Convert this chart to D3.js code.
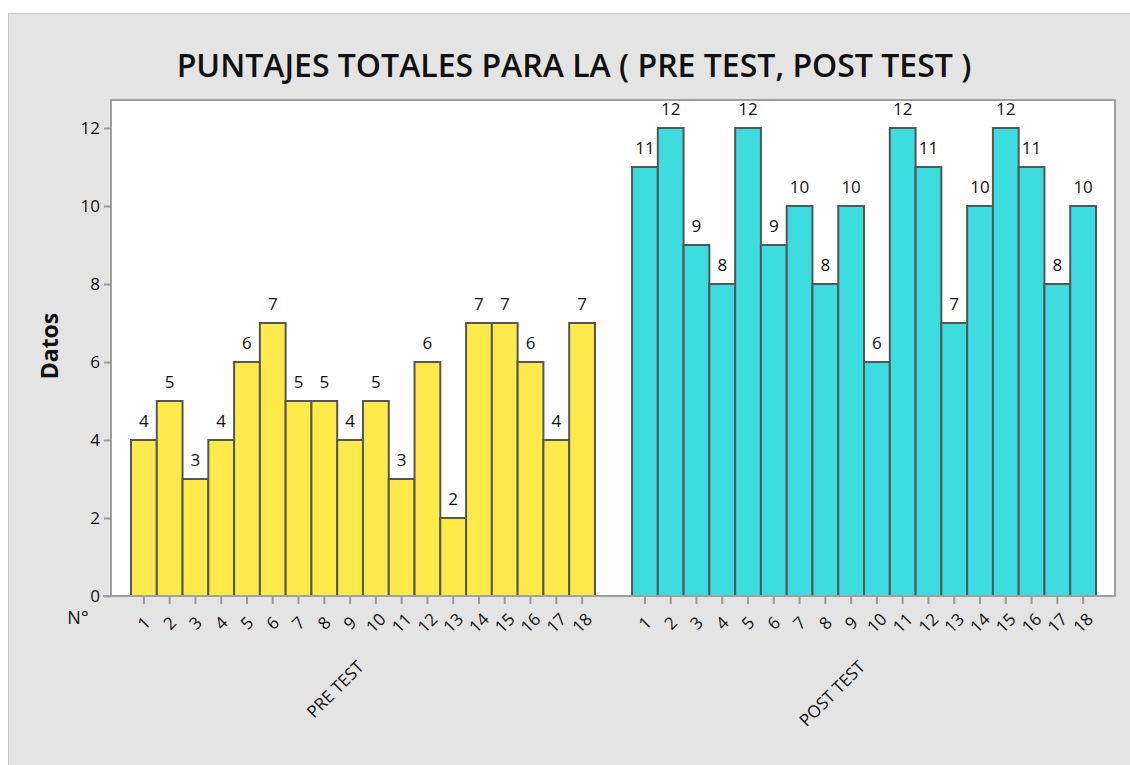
<!DOCTYPE html>
<html lang="es">
<head>
  <meta charset="UTF-8" />
  <title>Puntajes totales</title>
  <script src="https://d3js.org/d3.v7.min.js"></script>
  <style>
    body { margin: 0; background: #ffffff; font-family: 'Open Sans', 'Noto Sans', sans-serif; }
    svg { display: block; }
  </style>
</head>
<body>
  <svg width="1130" height="765"></svg>
  <script>
    const groups = ["PRE TEST", "POST TEST"];
    const items = d3.range(1, 19).map(String);
    const preTest = [4, 5, 3, 4, 6, 7, 5, 5, 4, 5, 3, 6, 2, 7, 7, 6, 4, 7];
    const postTest = [11, 12, 9, 8, 12, 9, 10, 8, 10, 6, 12, 11, 7, 10, 12, 11, 8, 10];
    const yTicks = [0, 2, 4, 6, 8, 10, 12];
    const groupColors = ["#ffea4b", "#3cdcdf"];

    const series = [preTest, postTest];
    const svg = d3.select("svg");

    // gray frame
    svg.append("rect")
      .attr("x", 8.5).attr("y", 13.5)
      .attr("width", 1130).attr("height", 760)
      .attr("fill", "#e4e4e4")
      .attr("stroke", "#c8c8c8");

    const margin = { left: 111, top: 100, right: 15, bottom: 169 };
    const W = 1130 - margin.left - margin.right;
    const H = 765 - margin.top - margin.bottom;

    const g = svg.append("g").attr("transform", `translate(${margin.left},${margin.top})`);

    g.append("rect")
      .attr("width", W).attr("height", H)
      .attr("fill", "#fff")
      .attr("stroke", "#a0a0a0")
      .attr("stroke-width", 2);

    const y = d3.scaleLinear().domain([0, 12]).range([H, 28]);

    const x0 = d3.scaleBand().domain(groups).range([20, W - 19]).paddingInner(0.074);
    const x1 = d3.scaleBand().domain(items).range([0, x0.bandwidth()]);

    // y axis
    const yAxis = g.append("g")
      .call(d3.axisLeft(y).tickValues(yTicks).tickSize(7).tickPadding(4));
    yAxis.select(".domain").remove();
    yAxis.selectAll("line").attr("stroke", "#999").attr("stroke-width", 2);
    yAxis.selectAll("text")
      .attr("font-size", 17)
      .attr("fill", "#111")
      .attr("font-family", "'Open Sans', sans-serif");

    // bars
    groups.forEach((grp, gi) => {
      const gg = g.append("g").attr("transform", `translate(${x0(grp)},0)`);
      const vals = series[gi];

      gg.selectAll("rect")
        .data(vals)
        .join("rect")
        .attr("x", (d, i) => x1(items[i]))
        .attr("y", d => y(d))
        .attr("width", x1.bandwidth())
        .attr("height", d => H - y(d))
        .attr("fill", groupColors[gi])
        .attr("stroke", "#555")
        .attr("stroke-width", 2);

      gg.selectAll("text.val")
        .data(vals)
        .join("text")
        .attr("class", "val")
        .attr("x", (d, i) => x1(items[i]) + x1.bandwidth() / 2)
        .attr("y", d => y(d) - 13)
        .attr("text-anchor", "middle")
        .attr("font-size", 17)
        .attr("fill", "#111")
        .text(d => d);

      // x axis ticks per group
      const ax = gg.append("g").attr("transform", `translate(0,${H})`)
        .call(d3.axisBottom(x1).tickSize(8).tickSizeOuter(0));
      ax.select(".domain").remove();
      ax.selectAll("line").attr("stroke", "#999").attr("stroke-width", 2);
      ax.selectAll("text")
        .attr("font-size", 17)
        .attr("fill", "#111")
        .attr("font-family", "'Open Sans', sans-serif")
        .attr("text-anchor", "middle")
        .attr("dy", "0.35em")
        .attr("y", 0)
        .attr("transform", "translate(0,27) rotate(-45)");

      // group label
      gg.append("text")
        .attr("transform", `translate(${x0.bandwidth() / 2 + 2},${H + 72}) rotate(-45)`)
        .attr("text-anchor", "end")
        .attr("font-size", 17)
        .attr("fill", "#111")
        .text(grp);
    });

    // bottom axis line
    g.append("line")
      .attr("x1", -8).attr("x2", W)
      .attr("y1", H).attr("y2", H)
      .attr("stroke", "#a0a0a0").attr("stroke-width", 2);

    svg.append("text")
      .attr("x", 78).attr("y", 624)
      .attr("text-anchor", "middle")
      .attr("font-size", 18)
      .attr("fill", "#111")
      .text("N°");

    svg.append("text")
      .attr("transform", "translate(58,346) rotate(-90)")
      .attr("text-anchor", "middle")
      .attr("font-size", 23)
      .attr("font-weight", "bold")
      .attr("fill", "#111")
      .text("Datos");

    svg.append("text")
      .attr("x", 574).attr("y", 77)
      .attr("text-anchor", "middle")
      .attr("font-size", 32)
      .attr("font-weight", 600)
      .attr("fill", "#111")
      .text("PUNTAJES TOTALES PARA LA ( PRE TEST, POST TEST )");
  </script>
</body>
</html>
